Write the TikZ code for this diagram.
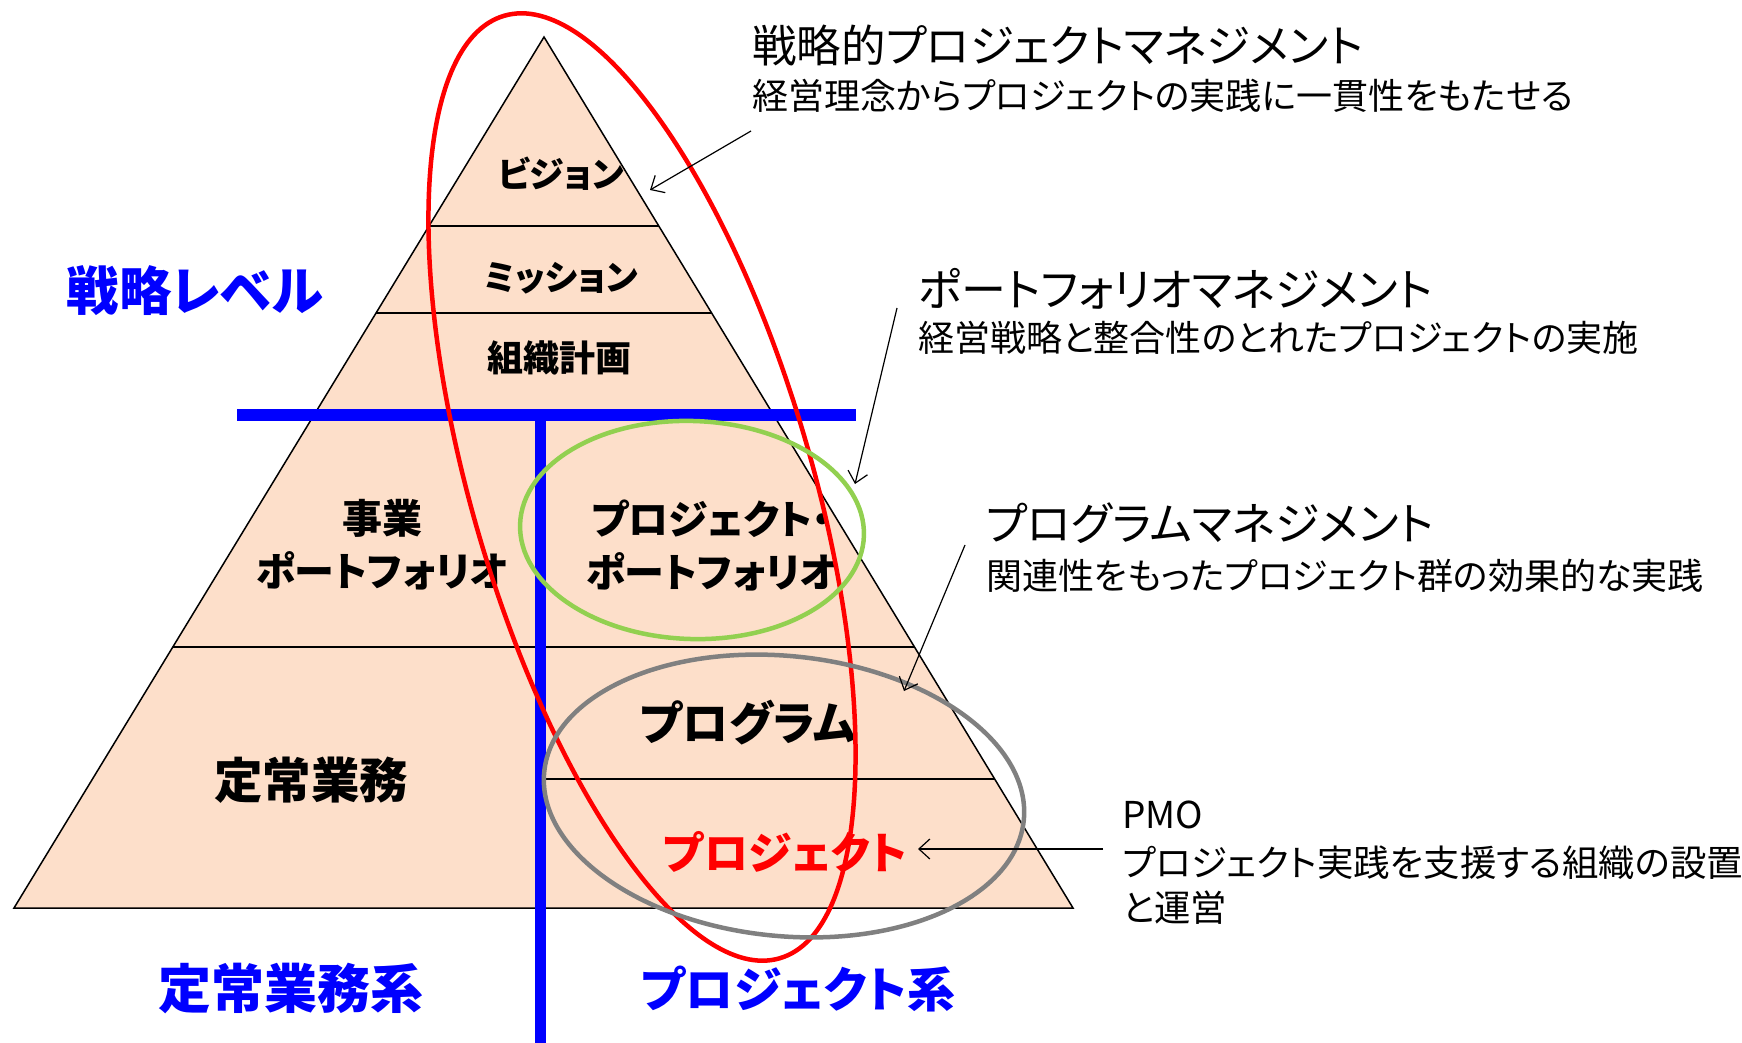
\documentclass[tikz,border=0pt]{standalone}
\usepackage{fontspec}
\newfontfamily\jp[RawFeature=+palt]{Noto Sans CJK JP}
\usetikzlibrary{arrows.meta}
\definecolor{peach}{RGB}{253,223,202}
\definecolor{grn}{RGB}{146,208,80}
\definecolor{gry}{RGB}{128,128,128}
\begin{document}
\begin{tikzpicture}[x=1pt,y=1pt,
  lbl/.style 2 args={font=\jp\bfseries\fontsize{#1}{#2}\selectfont, inner sep=0pt, align=center},
  note/.style={font=\jp\fontsize{#1}{#1}\selectfont, inner sep=0pt, anchor=west},
  pointer/.style={-{Straight Barb[length=11pt,width=20pt]}, line width=1.2pt},
  tier/.style={line width=1.5pt},
  ring/.style={line width=4.5pt}
]
\fill[white] (0,-1043) rectangle (1742,0);
\useasboundingbox (0,-1043) rectangle (1742,0);
% pyramid
\coordinate (apex) at (544,-37);
\coordinate (bl) at (14,-908);
\coordinate (br) at (1073,-908);
\filldraw[fill=peach, draw=black, line width=1.5pt] (apex) -- (bl) -- (br) -- cycle;
\coordinate (d1l) at (429,-226);   \coordinate (d1r) at (658.8,-226);
\coordinate (d2l) at (376.1,-313); \coordinate (d2r) at (711.6,-313);
\coordinate (d3l) at (172.8,-647); \coordinate (d3r) at (914.5,-647);
\coordinate (d4l) at (546,-779);   \coordinate (d4r) at (994.6,-779);
\draw[tier] (d1l) -- (d1r);
\draw[tier] (d2l) -- (d2r);
\draw[tier] (d3l) -- (d3r);
\draw[tier] (d4l) -- (d4r);
% blue T
\coordinate (hl) at (237,-415); \coordinate (hr) at (856,-415);
\coordinate (vt) at (540,-415); \coordinate (vb) at (540,-1043);
\draw[blue, line width=12pt] (hl) -- (hr);
\draw[blue, line width=11pt] (vt) -- (vb);
% pyramid labels
\node[lbl={35}{40}] (vision) at (561,-174) {ビジョン};
\node[lbl={35}{40}] (mission) at (561,-278) {ミッション};
\node[lbl={36}{40}] (orgplan) at (559,-358) {組織計画};
\node[lbl={40}{53}] (bizpf) at (382,-545) {事業\\ポートフォリオ};
\node[lbl={40}{53}] (prjpf) at (712,-545) {プロジェクト・\\ポートフォリオ};
\node[lbl={48.5}{50}] (routine) at (311,-780) {定常業務};
\node[lbl={46}{50}] (program) at (748,-723) {プログラム};
\node[lbl={44}{50}, text=red] (project) at (785,-852) {プロジェクト};
% side labels
\node[lbl={52.5}{55}, text=blue] (strat) at (195,-291) {戦略レベル};
\node[lbl={53}{55}, text=blue] (routinesys) at (291,-989) {定常業務系};
\node[lbl={48}{55}, text=blue] (projsys) at (798,-989) {プロジェクト系};
% notes
\node[note=44.5] (t1) at (752,-46) {戦略的プロジェクトマネジメント};
\node[note=36] (s1) at (752,-96) {経営理念からプロジェクトの実践に一貫性をもたせる};
\node[note=45] (t2) at (918,-289) {ポートフォリオマネジメント};
\node[note=36] (s2) at (918,-338) {経営戦略と整合性のとれたプロジェクトの実施};
\node[note=45] (t3) at (986,-523) {プログラムマネジメント};
\node[note=36] (s3) at (986,-576) {関連性をもったプロジェクト群の効果的な実践};
\node[note=37] (pmo) at (1122,-815) {PMO};
\node[note=36.4] (p1) at (1122,-863) {プロジェクト実践を支援する組織の設置};
\node[note=36.4] (p2) at (1122,-908) {と運営};
% rings
\draw[red, ring] (642,-487) ellipse [x radius=170, y radius=491, rotate=16.3];
\draw[grn, ring] (692,-530) ellipse [x radius=172, y radius=109, rotate=-2];
\draw[gry, ring] (784,-796) ellipse [x radius=241, y radius=140, rotate=-5.8];
% pointers
\coordinate (a1s) at (751,-131); \coordinate (a1e) at (650,-190);
\coordinate (a2s) at (897,-308); \coordinate (a2e) at (855,-484);
\coordinate (a3s) at (965,-545); \coordinate (a3e) at (904,-691);
\coordinate (a4s) at (1103,-849); \coordinate (a4e) at (918,-849);
\draw[pointer] (a1s) -- (a1e);
\draw[pointer] (a2s) -- (a2e);
\draw[pointer] (a3s) -- (a3e);
\draw[pointer] (a4s) -- (a4e);
\end{tikzpicture}
\end{document}
